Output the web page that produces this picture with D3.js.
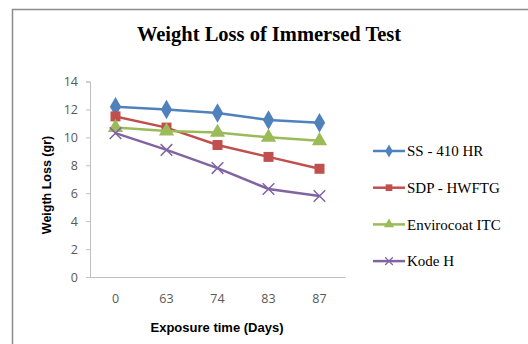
<!DOCTYPE html>
<html>
<head>
<meta charset="utf-8">
<script src="https://cdn.jsdelivr.net/npm/d3@7"></script>
<style>
  body { margin: 0; background: #fff; }
  svg { display: block; }
</style>
</head>
<body>
<script>
// chart data
var days = ["0", "63", "74", "83", "87"];
var seriesNames = ["SS - 410 HR", "SDP - HWFTG", "Envirocoat ITC", "Kode H"];
var ss410 = [12.2, 12.0, 11.75, 11.25, 11.05];
var sdp = [11.5, 10.7, 9.45, 8.6, 7.75];
var envirocoat = [10.7, 10.45, 10.35, 10.0, 9.75];
var kodeH = [10.3, 9.1, 7.8, 6.3, 5.8];
var yTicks = [0, 2, 4, 6, 8, 10, 12, 14];

var colors = ["#4F81BD", "#C0504D", "#9BBB59", "#8064A2"];
var symbols = [d3.symbolDiamond, d3.symbolSquare, d3.symbolTriangle, d3.symbolX];
var symSizes = [110, 100, 100, 90];

var series = [ss410, sdp, envirocoat, kodeH].map(function(v, i) {
  return {name: seriesNames[i], values: v, color: colors[i], symbol: symbols[i], size: symSizes[i]};
});

var W = 528, H = 344;
var svg = d3.select("body").append("svg")
    .attr("width", W)
    .attr("height", H);

// outer chart border
svg.append("rect")
    .attr("x", 12.5).attr("y", 9.5)
    .attr("width", 540).attr("height", 360)
    .attr("fill", "#fff")
    .attr("stroke", "#8c8c8c")
    .attr("stroke-width", 1.5);

// title
svg.append("text")
    .attr("x", 269).attr("y", 41)
    .attr("text-anchor", "middle")
    .style("font-family", "'Liberation Serif', 'Times New Roman', serif")
    .style("font-weight", "bold")
    .style("font-size", "20.5px")
    .text("Weight Loss of Immersed Test");

var plot = {left: 90, right: 345, top: 81.5, bottom: 277};

var x = d3.scaleBand()
    .domain(days)
    .range([plot.left, plot.right]);

var y = d3.scaleLinear()
    .domain([0, 14])
    .range([plot.bottom, plot.top]);

// y axis
var yAxis = svg.append("g")
    .attr("transform", "translate(" + plot.left + ",0)")
    .call(d3.axisLeft(y).tickValues(yTicks).tickSize(4).tickPadding(8));
yAxis.select(".domain").attr("stroke", "#bfbfbf");
yAxis.selectAll(".tick line").attr("stroke", "#bfbfbf");
yAxis.selectAll("text")
    .attr("fill", "#595959")
    .style("font-family", "'Open Sans', 'Liberation Sans', sans-serif")
    .style("font-size", "12.5px");

// x axis
var xAxis = svg.append("g")
    .attr("transform", "translate(0," + plot.bottom + ")")
    .call(d3.axisBottom(x).tickSize(0).tickPadding(17));
xAxis.select(".domain").attr("stroke", "#bfbfbf");
xAxis.selectAll("text")
    .attr("fill", "#595959")
    .style("font-family", "'Open Sans', 'Liberation Sans', sans-serif")
    .style("font-size", "12.5px");

// axis titles
svg.append("text")
    .attr("transform", "translate(51,185) rotate(-90)")
    .attr("text-anchor", "middle")
    .style("font-family", "'Liberation Sans', Arial, sans-serif")
    .style("font-weight", "bold")
    .style("font-size", "12.5px")
    .text("Weigth Loss (gr)");

svg.append("text")
    .attr("x", 217).attr("y", 332)
    .attr("text-anchor", "middle")
    .style("font-family", "'Liberation Sans', Arial, sans-serif")
    .style("font-weight", "bold")
    .style("font-size", "13px")
    .text("Exposure time (Days)");

// lines
var line = d3.line()
    .x(function(d, i) { return x(days[i]) + x.bandwidth() / 2; })
    .y(function(d) { return y(d); });

series.forEach(function(s) {
  svg.append("path")
      .datum(s.values)
      .attr("d", line)
      .attr("fill", "none")
      .attr("stroke", s.color)
      .attr("stroke-width", 2.5);

  svg.append("g").selectAll("path")
      .data(s.values)
    .enter().append("path")
      .attr("transform", function(d, i) {
        return "translate(" + (x(days[i]) + x.bandwidth() / 2) + "," + y(d) + ")";
      })
      .attr("d", d3.symbol().type(s.symbol).size(s.size))
      .attr("fill", s.color)
      .attr("stroke", s.symbol === d3.symbolX ? s.color : "none")
      .attr("stroke-width", 1.5);
});

// legend
var legend = svg.append("g").selectAll("g")
    .data(series)
  .enter().append("g")
    .attr("transform", function(d, i) { return "translate(373," + (151 + i * 36.7) + ")"; });

legend.append("line")
    .attr("x1", 0).attr("x2", 32)
    .attr("stroke", function(d) { return d.color; })
    .attr("stroke-width", 2.5);

legend.append("path")
    .attr("transform", "translate(16,0)")
    .attr("d", function(d) { return d3.symbol().type(d.symbol).size(d.size * 0.45)(); })
    .attr("fill", function(d) { return d.color; })
    .attr("stroke", function(d) { return d.symbol === d3.symbolX ? d.color : "none"; })
    .attr("stroke-width", 1.2);

legend.append("text")
    .attr("x", 34).attr("y", 0)
    .attr("dy", "0.35em")
    .style("font-family", "'Liberation Serif', 'Times New Roman', serif")
    .style("font-size", "15px")
    .text(function(d) { return d.name; });
</script>
</body>
</html>
